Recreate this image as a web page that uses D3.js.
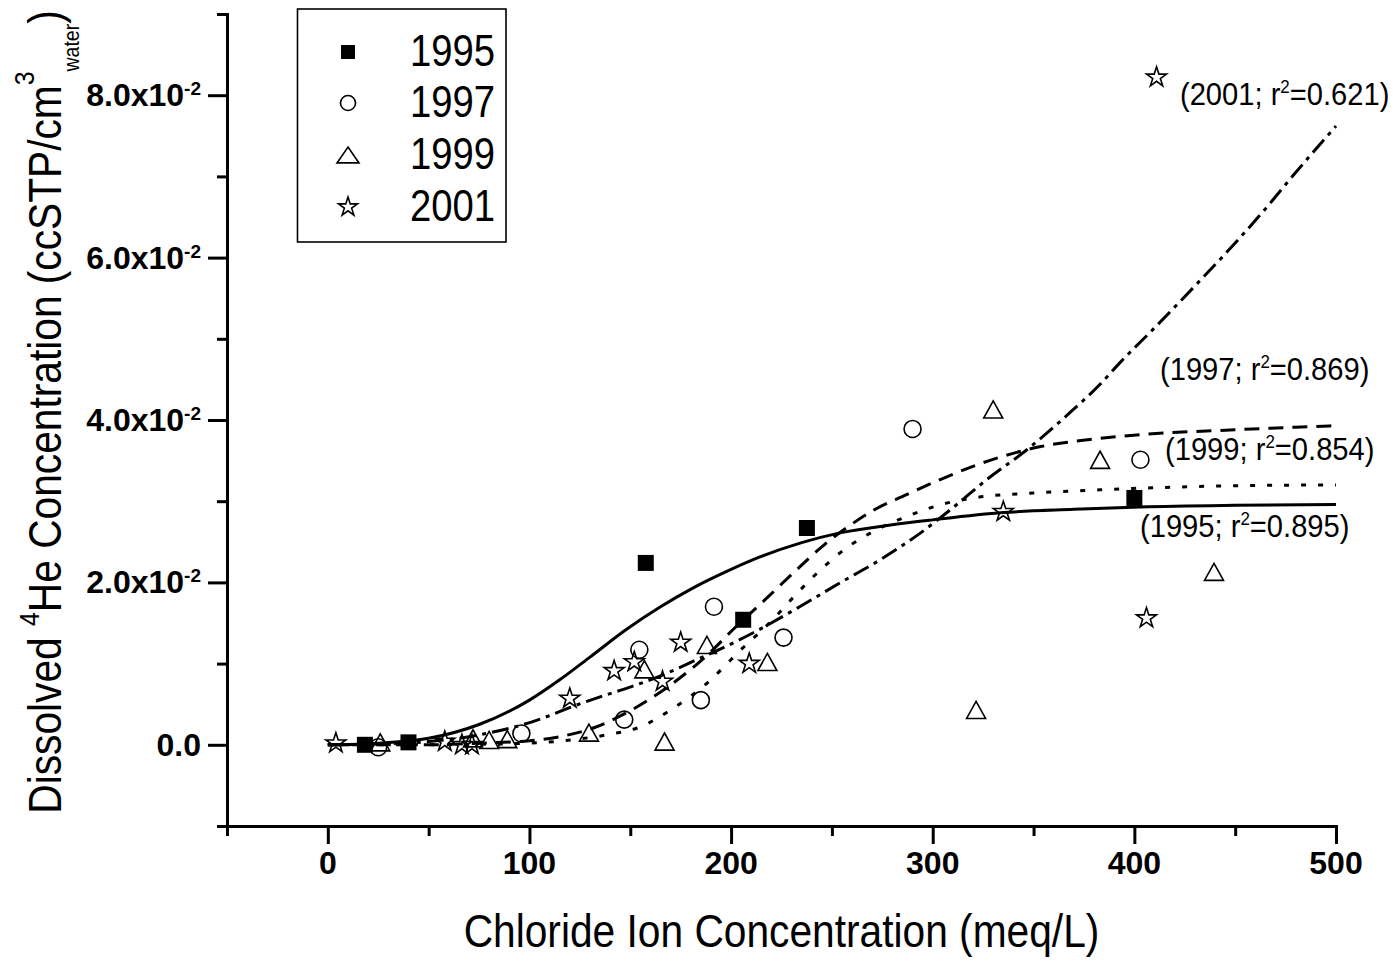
<!DOCTYPE html>
<html><head><meta charset="utf-8">
<script src="https://cdn.jsdelivr.net/npm/d3@7"></script>
<style>html,body{margin:0;padding:0;background:#fff;} svg{display:block;}</style>
</head><body>
<svg id="chart" width="1399" height="960"></svg>
<script>
// ---------------- data ----------------
const years = ["1995", "1997", "1999", "2001"];
const r2Labels = ["0.895", "0.869", "0.854", "0.621"];

// measured points (x: meq/L, y: ccSTP/cm3)
const x1995 = [18.4, 40, 157.7, 206, 237.6, 400];
const y1995 = [0.0000, 0.0003, 0.0224, 0.0154, 0.0267, 0.0304];
const x1997 = [25, 96, 147, 154.5, 185, 191.5, 226, 290, 403];
const y1997 = [-0.0003, 0.0014, 0.0031, 0.0117, 0.0055, 0.0170, 0.0132, 0.0389, 0.0351];
const x1999 = [26, 72, 80, 89, 129.5, 157, 167, 188, 218, 321.5, 330, 383, 439.5];
const y1999 = [0.0003, 0.0008, 0.0006, 0.0007, 0.0015, 0.0093, 0.0004, 0.0123, 0.0102, 0.0043, 0.0413, 0.0351, 0.0213];
const x2001 = [4, 58, 66.5, 71.5, 120, 142, 152, 166, 175, 209, 335, 406, 411];
const y2001 = [0.0002, 0.0004, 0.0000, 0.0000, 0.0057, 0.0091, 0.0102, 0.0078, 0.0126, 0.0100, 0.0287, 0.0156, 0.0822];

// fitted curves (y in 1e-2 units)
const fitX1995 = [0, 25, 50, 75, 100, 115, 130, 148, 165, 181, 200, 214, 235, 254, 280, 300, 335, 370, 403, 450, 500];
const fitY1995 = [0, 0.02, 0.08, 0.25, 0.55, 0.80, 1.08, 1.42, 1.70, 1.93, 2.16, 2.31, 2.49, 2.61, 2.71, 2.77, 2.86, 2.90, 2.93, 2.95, 2.96];
const fitX1997 = [0, 50, 75, 100, 115, 132, 147, 162, 176, 188, 201, 217, 231, 246, 260, 270, 287, 304, 320, 333, 353, 378, 403, 450, 500];
const fitY1997 = [0, 0.0, 0.02, 0.05, 0.10, 0.21, 0.38, 0.60, 0.85, 1.10, 1.42, 1.79, 2.12, 2.46, 2.72, 2.88, 3.08, 3.27, 3.43, 3.54, 3.67, 3.76, 3.82, 3.88, 3.93];
const fitX1999 = [0, 50, 100, 124, 140, 155, 170, 189, 204, 221, 231, 245, 257, 270, 287, 303, 320, 350, 383, 403, 450, 500];
const fitY1999 = [0, 0, 0.02, 0.07, 0.13, 0.22, 0.43, 0.78, 1.15, 1.55, 1.82, 2.17, 2.42, 2.62, 2.81, 2.95, 3.04, 3.10, 3.14, 3.16, 3.19, 3.20];
const fitX2001 = [0, 25, 50, 70, 86, 97, 110, 118, 135, 151, 168, 184, 193, 211, 234, 253, 274, 294, 310, 327, 347, 368, 383, 393, 409, 430, 450, 466, 476, 500];
const fitY2001 = [0, 0.01, 0.04, 0.10, 0.18, 0.25, 0.36, 0.44, 0.59, 0.72, 0.88, 1.06, 1.16, 1.38, 1.70, 1.98, 2.28, 2.61, 2.92, 3.27, 3.64, 4.09, 4.44, 4.71, 5.11, 5.65, 6.18, 6.63, 6.93, 7.62];

// annotation anchors (data coordinates)
const annX = [402.8, 412.7, 415.2, 422.6];
const annY = [0.02563, 0.04498, 0.03512, 0.07874];

const xMajor = [0, 100, 200, 300, 400, 500];
const xMinor = [-50, 50, 150, 250, 350, 450];
const yMajor = [0, 0.02, 0.04, 0.06, 0.08];
const yMinor = [-0.01, 0.01, 0.03, 0.05, 0.07, 0.09];

// ---------------- drawing ----------------
const FONT = "'Liberation Sans', Arial, Helvetica, sans-serif";
const svg = d3.select("#chart");
svg.append("rect").attr("width", 1399).attr("height", 960).attr("fill", "#fff");

const x = d3.scaleLinear().domain([-50, 500]).range([227, 1336]);
const y = d3.scaleLinear().domain([-0.01, 0.09]).range([826, 14]);

function stext(parent, px, py, sx, size, weight, anchor) {
  const g = parent.append("g").attr("transform", `translate(${px},${py}) scale(${sx},1)`);
  return g.append("text").attr("x", 0).attr("y", 0)
    .attr("font-family", FONT).attr("font-size", size)
    .attr("font-weight", weight || "normal")
    .attr("text-anchor", anchor || "start").attr("fill", "#000");
}

// axes
const gy = svg.append("g").attr("transform", `translate(${x(-50)},0)`);
gy.call(d3.axisLeft(y).tickValues(yMajor).tickSize(19).tickSizeOuter(0).tickFormat(""));
const gyMin = svg.append("g").attr("transform", `translate(${x(-50)},0)`);
gyMin.call(d3.axisLeft(y).tickValues(yMinor).tickSize(10).tickFormat(""));
gyMin.select(".domain").remove();

const gx = svg.append("g").attr("transform", `translate(0,${y(-0.01)})`);
gx.call(d3.axisBottom(x).tickValues(xMajor).tickSize(18).tickSizeOuter(0).tickFormat(""));
const gxMin = svg.append("g").attr("transform", `translate(0,${y(-0.01)})`);
gxMin.call(d3.axisBottom(x).tickValues(xMinor).tickSize(10).tickFormat(""));
gxMin.select(".domain").remove();

svg.selectAll(".domain").attr("stroke", "#000").attr("stroke-width", 3).attr("stroke-linecap", "square");
svg.selectAll(".tick line").attr("stroke", "#000").attr("stroke-width", 3);

// y tick labels
yMajor.forEach(v => {
  const t = stext(svg, 201, y(v) + 11, 1, 32, "bold", "end");
  if (v === 0) {
    t.text("0.0");
  } else {
    t.append("tspan").text((v * 100).toFixed(1) + "x10");
    t.append("tspan").attr("font-size", 19).attr("dy", -11).text("-2");
  }
});
// x tick labels
xMajor.forEach(v => {
  stext(svg, x(v), 874, 1, 32, "bold", "middle").text(String(v));
});

// axis titles
stext(svg, (x(-50) + x(500)) / 2, 947, 0.885, 46, "normal", "middle")
  .text("Chloride Ion Concentration (meq/L)");

{
  const g = svg.append("g").attr("transform", `translate(61,412) rotate(-90) scale(0.885,1)`);
  const t = g.append("text").attr("font-family", FONT).attr("font-size", 46)
    .attr("text-anchor", "middle").attr("fill", "#000");
  t.append("tspan").text("Dissolved ");
  t.append("tspan").attr("font-size", 28).attr("dy", -22).text("4");
  t.append("tspan").attr("dy", 22).text("He Concentration (ccSTP/cm");
  t.append("tspan").attr("font-size", 28).attr("dy", -27).text("3");
  t.append("tspan").attr("font-size", 22).attr("dy", 45).text("water");
  t.append("tspan").attr("dy", -18).text(")");
}

// fitted curves
const fitXs = [fitX1995, fitX1997, fitX1999, fitX2001];
const fitYs = [fitY1995, fitY1997, fitY1999, fitY2001];
const dashes = [null, "15,9", "5,12", "17,6,4,6"];
const line = d3.line().x(d => x(d[0])).y(d => y(d[1] / 100)).curve(d3.curveMonotoneX);
fitXs.forEach((xs, i) => {
  const pts = xs.map((xv, j) => [xv, fitYs[i][j]]);
  const p = svg.append("path").datum(pts).attr("d", line)
    .attr("fill", "none").attr("stroke", "#000").attr("stroke-width", 3);
  if (dashes[i]) p.attr("stroke-dasharray", dashes[i]);
});

// marker types
function makeTri(ratio) {
  return { draw(ctx, size) {
    const w = Math.sqrt(size), h = w * ratio;
    ctx.moveTo(0, -h / 2); ctx.lineTo(w / 2, h / 2); ctx.lineTo(-w / 2, h / 2); ctx.closePath();
  } };
}
const plotSym = [
  d3.symbol().type(d3.symbolSquare).size(256),
  d3.symbol().type(d3.symbolCircle).size(227),
  d3.symbol().type(makeTri(0.9)).size(361),
  d3.symbol().type(d3.symbolStar).size(124)
];
const legSym = [
  d3.symbol().type(d3.symbolSquare).size(196),
  d3.symbol().type(d3.symbolCircle).size(177),
  d3.symbol().type(makeTri(0.72)).size(484),
  d3.symbol().type(d3.symbolStar).size(112)
];
function styleSym(sel, i) {
  if (i === 0) sel.attr("fill", "#000").attr("stroke", "none");
  else sel.attr("fill", "none").attr("stroke", "#000").attr("stroke-width", 1.6).attr("stroke-linejoin", "miter");
}

const xs = [x1995, x1997, x1999, x2001];
const ys = [y1995, y1997, y1999, y2001];
xs.forEach((arr, i) => {
  const pts = arr.map((xv, j) => [xv, ys[i][j]]);
  const s = svg.append("g").selectAll("path").data(pts).join("path")
    .attr("transform", d => `translate(${x(d[0])},${y(d[1])})`)
    .attr("d", plotSym[i]());
  styleSym(s, i);
});

// annotations
years.forEach((yr, i) => {
  const t = stext(svg, x(annX[i]), y(annY[i]), 0.94, 31, "normal", "start");
  t.append("tspan").text(`(${yr}; r`);
  t.append("tspan").attr("font-size", 18).attr("dy", -12).text("2");
  t.append("tspan").attr("dy", 12).text(`=${r2Labels[i]})`);
});

// legend
svg.append("rect").attr("x", 297.5).attr("y", 9).attr("width", 208.5).attr("height", 233)
  .attr("fill", "#fff").attr("stroke", "#000").attr("stroke-width", 1.6);
const legY = [52, 103, 155, 207];
years.forEach((yr, i) => {
  const s = svg.append("path").attr("transform", `translate(348,${legY[i]})`).attr("d", legSym[i]());
  styleSym(s, i);
  stext(svg, 410, legY[i] + 14, 0.85, 45, "normal", "start").text(yr);
});
</script>
</body></html>
